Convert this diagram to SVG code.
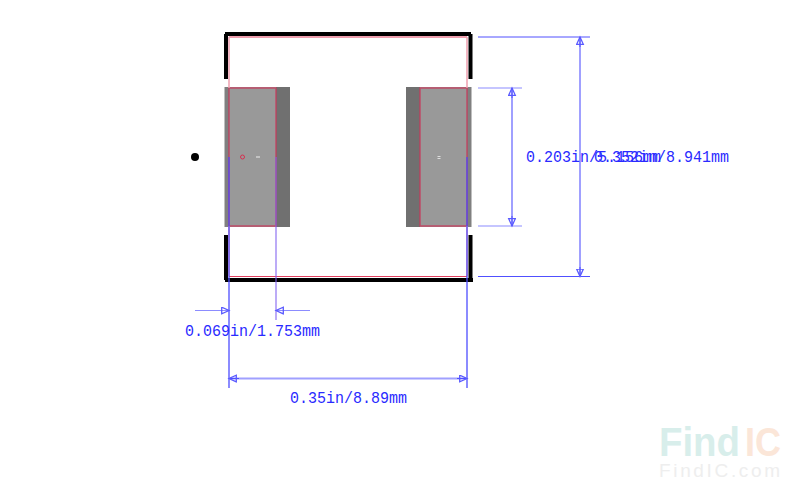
<svg xmlns="http://www.w3.org/2000/svg" width="800" height="497" viewBox="0 0 800 497">
<style>
.blk{fill:#000}
.pad{fill:#999}
.dk{fill:#707070}
.md{fill:#808080}
.red{fill:none;stroke:#c8385a;stroke-width:1.5;opacity:.8}
.fp{fill:none;stroke:#e0405f;stroke-width:1}
.fpv{stroke:#f0a0b0;stroke-width:1.5}
.ext{stroke:#5050ff;stroke-width:1;fill:none}
.ext2{stroke:#8c8cff;stroke-width:1.2;fill:none}
.dim{stroke:#a0a0ff;stroke-width:2;fill:none}
.arr{stroke:none;fill:none}
.t{font-family:"Liberation Mono",monospace;font-size:17px;fill:#2a2aff}
</style>
<defs>
<marker id="a" markerUnits="userSpaceOnUse" markerWidth="12" markerHeight="10" refX="8" refY="4" orient="auto-start-reverse"><path d="M0.7 0.7L8 4L0.7 7.300Z" fill="none" stroke="#5a5aff" stroke-width="1.300"/></marker>
</defs>
<g id="pad-left">
<rect class="md" x="224.5" y="87" width="5" height="140"/>
<rect class="pad" x="229" y="87" width="47" height="140"/>
<rect class="dk" x="276" y="87" width="14" height="140"/>
<rect class="red" x="229" y="88" width="47" height="138"/>
<circle cx="242.5" cy="157" r="2" fill="none" stroke="#d6304f" stroke-width="1"/>
<rect x="256" y="156.5" width="4" height="1" fill="#eee"/>
</g>
<g id="pad-right">
<rect class="dk" x="406" y="87" width="14" height="140"/>
<rect class="pad" x="420" y="87" width="47" height="140"/>
<rect class="md" x="467" y="87" width="4.5" height="140"/>
<rect class="red" x="420" y="88" width="47" height="138"/>
<rect x="437.5" y="156" width="3" height="1" fill="#ddd"/>
<rect x="437.5" y="158" width="3" height="1" fill="#ddd"/>
</g>
<g id="body">
<path class="fp" d="M229 37H467M229 276.500H467" />
<path class="fpv" d="M229 37V88M467 37V88M229 226V276M467 226V276" fill="none"/>
<rect class="blk" x="225" y="32" width="246" height="4"/>
<rect class="blk" x="224" y="34" width="4" height="45"/>
<rect class="blk" x="468.500" y="34" width="4" height="45"/>
<rect class="blk" x="224" y="235" width="4" height="45"/>
<rect class="blk" x="468.500" y="235" width="4" height="45"/>
<rect class="blk" x="225" y="278" width="248" height="4"/>
</g>
<g id="pin-dot"><circle cx="195" cy="157" r="4" fill="#000"/></g>
<g id="connectors">
<path d="M229 157V388M467 157V388" stroke="#4a4aff" stroke-width="1.500" fill="none" opacity=".85"/>
<path d="M276 157V320" stroke="#8060f0" stroke-width="1.500" fill="none" opacity=".7"/>
<path class="ext" d="M478 37H590M478 276.500H590"/>
<path class="ext2" d="M478 88H522M478 226H522"/>
<path class="dim" d="M580 37V276.500M512 88V226"/>
<path class="ext" d="M580 47V37" marker-end="url(#a)"/>
<path class="ext" d="M580 267V276.500" marker-end="url(#a)"/>
<path class="ext" d="M512 98V88" marker-end="url(#a)"/>
<path class="ext" d="M512 216V226" marker-end="url(#a)"/>
<path class="ext2" d="M195 310.500H229" marker-end="url(#a)"/>
<path class="ext2" d="M310 310.500H276" marker-end="url(#a)"/>
<path class="dim" d="M229 378.500H467" stroke-width="1.500"/>
<path class="ext" d="M239 378.500H229" marker-end="url(#a)"/>
<path class="ext" d="M457 378.500H467" marker-end="url(#a)"/>
</g>
<g id="labels">
<text class="t" x="526" y="162" textLength="135" lengthAdjust="spacingAndGlyphs">0.203in/5.156mm</text>
<text class="t" x="594" y="162" textLength="135" lengthAdjust="spacingAndGlyphs">0.352in/8.941mm</text>
<text class="t" x="185" y="335.500" textLength="135" lengthAdjust="spacingAndGlyphs">0.069in/1.753mm</text>
<text class="t" x="290" y="403" textLength="117" lengthAdjust="spacingAndGlyphs">0.35in/8.89mm</text>
</g>
<g id="watermark" font-family="'Liberation Sans',sans-serif">
<text x="659" y="456" font-size="41" font-weight="700" fill="#d8eeeb" textLength="81" lengthAdjust="spacingAndGlyphs">Find</text>
<text x="745" y="456" font-size="41" font-weight="700" fill="#fbe6d8" textLength="36" lengthAdjust="spacingAndGlyphs">IC</text>
<text x="659" y="477" font-size="19" fill="#eeeeee" textLength="121">FindIC.com</text>
</g>
</svg>
